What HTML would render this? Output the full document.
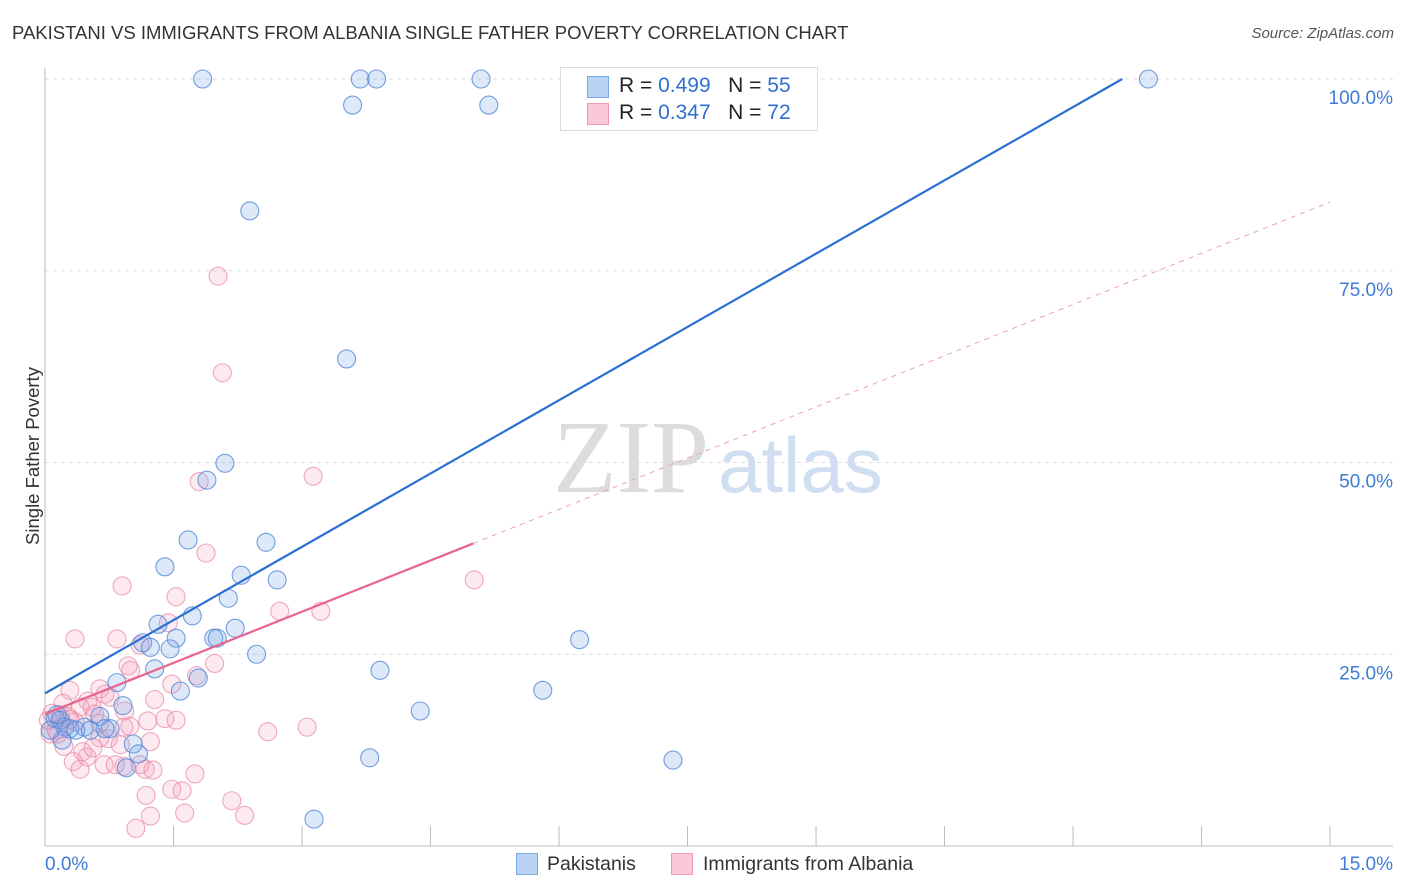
<!DOCTYPE html>
<html><head><meta charset="utf-8"><style>
body{margin:0;background:#fff;font-family:"Liberation Sans",sans-serif;}
#wrap{position:relative;width:1406px;height:892px;overflow:hidden;}
.t{position:absolute;white-space:nowrap;}
</style></head><body>
<div id="wrap">
<div class="t" style="left:12px;top:22px;font-size:18.5px;color:#333;">PAKISTANI VS IMMIGRANTS FROM ALBANIA SINGLE FATHER POVERTY CORRELATION CHART</div>
<div class="t" style="right:12px;top:25px;font-size:15px;color:#555;font-style:italic;">Source: ZipAtlas.com</div>
<div class="t" style="left:-56px;top:445px;font-size:18.5px;color:#333;transform:rotate(-90deg);">Single Father Poverty</div>
<svg id="svg" width="1406" height="892" style="position:absolute;left:0;top:0"></svg>
<div style="position:absolute;left:560px;top:67px;width:256px;height:62px;border:1px solid #ddd;background:#fff;">
 <div style="position:absolute;left:26px;top:8px;width:20px;height:20px;background:#b9d3f5;border:1px solid #7aa8e6;"></div>
 <div class="t" style="left:58px;top:6px;font-size:21px;color:#222;">R = <span style="color:#2f6fd0">0.499</span>&nbsp;&nbsp;&nbsp;N = <span style="color:#2f6fd0">55</span></div>
 <div style="position:absolute;left:26px;top:35px;width:20px;height:20px;background:#f9c8d6;border:1px solid #ee9ab2;"></div>
 <div class="t" style="left:58px;top:33px;font-size:21px;color:#222;">R = <span style="color:#2f6fd0">0.347</span>&nbsp;&nbsp;&nbsp;N = <span style="color:#2f6fd0">72</span></div>
</div>
<div style="position:absolute;left:516px;top:853px;width:20px;height:20px;background:#b9d3f5;border:1px solid #7aa8e6;"></div>
<div class="t" style="left:547px;top:853px;font-size:19.5px;color:#333;">Pakistanis</div>
<div style="position:absolute;left:671px;top:853px;width:20px;height:20px;background:#f9c8d6;border:1px solid #ee9ab2;"></div>
<div class="t" style="left:703px;top:853px;font-size:19.5px;color:#333;">Immigrants from Albania</div>
</div>
<script>
const blueX=[1.84,3.68,3.87,5.09,12.88,3.59,5.18,2.39,3.52,2.10,1.89,1.67,2.58,1.40,2.29,2.71,2.14,1.72,1.32,2.22,1.53,1.97,2.01,1.14,1.23,1.46,2.47,1.28,3.91,0.84,1.58,1.79,5.81,0.91,6.24,4.38,0.64,0.12,0.18,0.46,0.76,0.23,0.29,0.36,0.53,0.70,1.03,1.09,3.79,7.33,0.95,3.14,0.20,0.06,0.14];
const blueY=[100,100,100,100,100,96.6,96.6,82.8,63.5,49.9,47.7,39.9,39.6,36.4,35.3,34.7,32.3,30.0,28.9,28.4,27.1,27.1,27.1,26.5,25.9,25.7,25.0,23.1,22.9,21.3,20.2,21.9,20.3,18.3,26.9,17.6,16.9,16.6,16.4,15.5,15.3,15.5,15.3,15.1,15.1,15.3,13.3,12.0,11.5,11.2,10.2,3.5,13.8,15.1,17.1];
const pinkX=[2.02,2.07,1.80,3.13,1.88,0.90,5.01,1.53,2.74,3.22,1.44,0.35,0.84,1.11,0.97,1.00,1.98,1.48,1.77,0.64,0.50,0.70,0.76,0.29,0.21,0.41,0.55,0.08,0.18,0.27,0.35,0.93,1.20,1.40,1.53,0.92,0.99,0.15,0.74,0.06,0.64,0.88,1.23,0.22,0.44,0.56,0.33,0.41,0.69,0.92,0.49,0.82,1.17,1.26,1.75,1.60,1.48,1.18,1.23,1.63,1.06,2.18,2.33,2.60,3.06,1.11,0.29,0.64,0.13,0.04,0.58,1.28];
const pinkY=[74.3,61.7,47.5,48.2,38.2,33.9,34.7,32.5,30.6,30.6,29.1,27.0,27.0,26.2,23.5,22.9,23.8,21.1,22.2,20.5,18.9,19.8,19.4,20.3,18.6,18.1,18.1,17.3,17.1,16.9,16.2,17.6,16.3,16.6,16.4,15.5,15.6,14.6,14.0,14.6,14.1,13.2,13.6,13.0,12.3,12.8,11.0,10.0,10.6,10.4,11.6,10.6,10.0,9.9,9.4,7.2,7.4,6.6,3.9,4.3,2.3,5.9,4.0,14.9,15.5,10.6,16.5,16.0,15.1,16.4,17.2,19.1];
const yTicks=[25,50,75,100];
const yTickLabels=["25.0%","50.0%","75.0%","100.0%"];
const xTicks=[0,1.5,3,4.5,6,7.5,9,10.5,12,13.5,15];
const blueFit=[19.9,6.37];
const pinkFit=[17.2,4.45];
const pinkSolidEnd=5.0;

const NS="http://www.w3.org/2000/svg";
const svg=document.getElementById('svg');
const X=v=>45+v*85.67, Y=v=>846-v*7.67;
function mk(tag,attrs){const e=document.createElementNS(NS,tag);for(const k in attrs)e.setAttribute(k,attrs[k]);svg.appendChild(e);return e;}
let w=mk('text',{x:553,y:492,'font-size':104,'font-family':'Liberation Serif',fill:'#dcdcdc'});w.textContent='ZIP';


let w2=mk('text',{x:718,y:492,'font-size':78,'font-family':'Liberation Sans',fill:'#d0def2'});w2.textContent='atlas';


yTicks.forEach((t,i)=>{
 const g=mk('line',{x1:45,x2:1393,y1:Y(t),y2:Y(t),stroke:'#ddd','stroke-dasharray':'4,4'});
 
 
 const l=mk('text',{x:1393,y:Y(t)+25,'text-anchor':'end','font-size':19,fill:'#3d7bd6','font-family':'Liberation Sans'});
 l.textContent=yTickLabels[i];
 
 
});
mk('line',{x1:45,x2:45,y1:68,y2:846,stroke:'#bbb'});
mk('line',{x1:45,x2:1393,y1:846,y2:846,stroke:'#bbb'});
xTicks.forEach(t=>{
 const k=mk('line',{x1:X(t),x2:X(t),y1:826,y2:846,stroke:'#bbb'});
 
 
});
let xl=mk('text',{x:45,y:870,'font-size':19,fill:'#3d7bd6','font-family':'Liberation Sans'});xl.textContent='0.0%';


let xr=mk('text',{x:1393,y:870,'text-anchor':'end','font-size':19,fill:'#3d7bd6','font-family':'Liberation Sans'});xr.textContent='15.0%';


pinkX.forEach((v,i)=>{
 const c=mk('circle',{cx:X(v),cy:Y(pinkY[i]),r:9,fill:'rgba(244,160,188,0.22)',stroke:'rgba(232,140,170,0.75)','stroke-width':1.1});
 
 
});
blueX.forEach((v,i)=>{
 const c=mk('circle',{cx:X(v),cy:Y(blueY[i]),r:9,fill:'rgba(120,165,230,0.25)',stroke:'rgba(80,135,215,0.8)','stroke-width':1.1});
 
 
});
const bx2=(100-blueFit[0])/blueFit[1];
let bl=mk('line',{x1:X(0),y1:Y(blueFit[0]),x2:X(bx2),y2:Y(100),stroke:'#2a6fd4','stroke-width':2.2});


let pl=mk('line',{x1:X(0),y1:Y(pinkFit[0]),x2:X(pinkSolidEnd),y2:Y(pinkFit[0]+pinkFit[1]*pinkSolidEnd),stroke:'#e8648e','stroke-width':2.2});


let pd=mk('line',{x1:X(pinkSolidEnd),y1:Y(pinkFit[0]+pinkFit[1]*pinkSolidEnd),x2:X(15),y2:Y(pinkFit[0]+pinkFit[1]*15),stroke:'#eba0b6','stroke-width':1,'stroke-dasharray':'5,5'});


</script>
</body></html>
